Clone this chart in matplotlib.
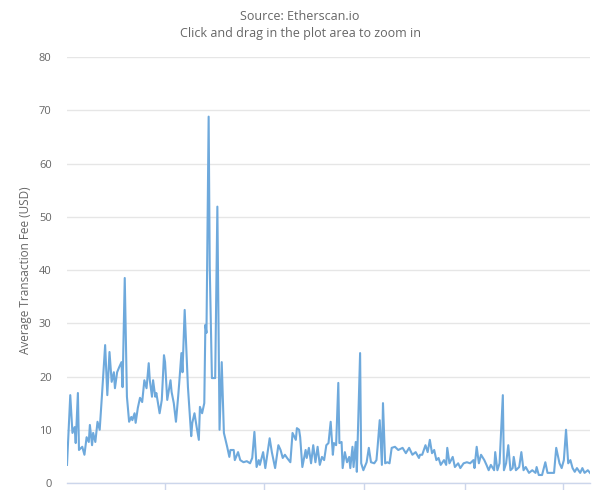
import datetime as dt
import matplotlib
matplotlib.use("Agg")
import matplotlib.pyplot as plt
import matplotlib.dates as mdates

# days since 2021-01-01 and average fee (USD)
days = [0, 3, 5, 7, 8, 10, 11, 14, 16, 18, 20, 21, 23, 24, 26, 28, 30, 32, 35, 37,
        39, 41, 43, 44, 46, 48, 50, 51, 53, 55, 57, 59, 60, 62, 63, 65, 67, 69, 71, 73,
        75, 76, 78, 79, 81, 82, 85, 87, 89, 90, 92, 95, 96, 98, 100, 102, 103, 105, 106, 108,
        110, 111, 114, 115, 117, 119, 121, 122, 124, 126, 127, 128, 130, 131, 133, 136, 138, 140, 142, 144,
        147, 149, 150, 153, 154, 157, 159, 162, 165, 168, 170, 172, 174, 176, 177, 180, 182, 186, 188, 191,
        194, 196, 198, 200, 202, 205, 207, 210, 211, 213, 214, 216, 219, 220, 222, 224, 226, 228, 230, 232,
        234, 236, 238, 240, 242, 244, 245, 247, 249, 250, 252, 253, 255, 257, 259, 260, 262, 263, 265, 266,
        269, 270, 272, 275, 277, 279, 282, 284, 285, 287, 289, 290, 292, 294, 296, 298, 301, 304, 308, 311,
        314, 317, 320, 323, 324, 326, 329, 331, 333, 335, 337, 339, 341, 343, 346, 348, 349, 351, 354, 356,
        359, 361, 364, 367, 370, 373, 374, 376, 378, 380, 383, 385, 387, 389, 392, 393, 395, 397, 400, 401,
        403, 405, 407, 409, 410, 412, 415, 417, 419, 421, 424, 427, 430, 431, 433, 436, 439, 441, 444, 447,
        449, 452, 454, 456, 458, 460, 462, 464, 466, 468, 471, 473, 475, 478, 480]
fees = [3.4, 16.5, 9.4, 10.5, 7.5, 16.9, 6.2, 6.8, 5.3, 8.6, 7.7, 10.9, 7.1, 9.4, 7.7, 11.5, 10.0, 16.2, 25.9, 16.5,
        24.6, 19.0, 20.8, 17.8, 20.8, 21.8, 22.7, 18.0, 38.5, 16.2, 11.5, 12.4, 11.8, 13.1, 11.3, 14.1, 16.0, 15.2, 19.3, 17.8,
        22.5, 19.3, 16.2, 19.3, 16.2, 16.9, 13.1, 15.6, 24.0, 22.7, 15.6, 19.3, 17.1, 15.0, 11.5, 16.2, 18.8, 24.4, 20.8, 32.5,
        23.1, 18.0, 8.8, 11.3, 13.1, 10.5, 8.1, 14.3, 13.1, 15.0, 29.7, 28.2, 68.8, 40.6, 19.7, 19.7, 51.9, 10.0, 22.7, 9.4,
        6.8, 4.9, 6.2, 6.2, 4.3, 5.8, 4.3, 3.9, 4.1, 3.7, 4.7, 9.6, 3.0, 4.3, 3.4, 5.8, 2.8, 8.4, 5.8, 2.8,
        7.1, 6.2, 4.7, 5.3, 4.7, 3.9, 9.4, 8.1, 10.3, 10.0, 8.6, 3.0, 6.2, 4.7, 6.6, 3.7, 7.1, 3.9, 6.8, 3.4,
        4.9, 4.3, 7.1, 7.5, 11.5, 5.3, 7.5, 7.1, 18.8, 7.5, 7.7, 2.8, 5.8, 3.9, 4.9, 2.8, 6.8, 3.0, 7.7, 2.1,
        24.4, 3.7, 2.4, 3.9, 6.6, 3.9, 3.7, 4.3, 6.6, 11.8, 3.4, 15.0, 3.7, 3.9, 3.7, 6.6, 6.8, 6.2, 6.6, 5.6,
        6.6, 5.3, 5.8, 4.7, 5.3, 5.3, 7.1, 5.8, 8.1, 5.6, 6.2, 4.3, 4.7, 3.4, 4.3, 3.4, 6.6, 3.7, 4.9, 3.0,
        3.7, 2.8, 3.7, 3.9, 3.7, 4.3, 2.8, 6.8, 3.7, 5.3, 4.3, 3.4, 2.4, 3.4, 2.4, 5.8, 2.4, 3.7, 16.5, 2.4,
        3.7, 7.1, 2.4, 2.8, 4.9, 2.4, 3.0, 5.8, 2.4, 3.0, 1.9, 2.4, 1.9, 3.0, 1.5, 1.5, 3.9, 1.9, 1.9, 1.9,
        6.6, 3.7, 2.8, 4.3, 10.0, 3.7, 4.3, 2.8, 2.1, 2.8, 1.9, 2.8, 1.9, 2.4, 1.9]

y_ticks = [0, 10, 20, 30, 40, 50, 60, 70, 80]
start = dt.datetime(2021, 1, 1)
dates = [start + dt.timedelta(days=d) for d in days]
x_ticks = [dt.datetime(2021, 4, 1), dt.datetime(2021, 7, 1), dt.datetime(2021, 10, 1),
           dt.datetime(2022, 1, 1), dt.datetime(2022, 4, 1)]

plt.rcParams['font.family'] = ['Open Sans', 'DejaVu Sans']

fig = plt.figure(figsize=(6, 4.9), dpi=100)
ax = fig.add_axes([67 / 600, 7 / 490, 523 / 600, 426 / 490])

ax.plot(dates, fees, color='#6ea9dc', linewidth=1.5, solid_joinstyle='round', zorder=3)

ax.set_xlim(start, start + dt.timedelta(days=480))
ax.set_ylim(0, 80)
ax.set_yticks(y_ticks)
ax.set_xticks(x_ticks)
ax.xaxis.set_major_formatter(mdates.DateFormatter('%b %Y'))

# highcharts-ish styling
ax.grid(axis='y', color='#e6e6e6', linewidth=1)
ax.set_axisbelow(True)
for side in ['top', 'right', 'left']:
    ax.spines[side].set_visible(False)
ax.spines['bottom'].set_color('#ccd6eb')
ax.spines['bottom'].set_linewidth(1)
ax.tick_params(axis='y', length=0, labelsize=8, labelcolor='#666666', pad=11)
ax.tick_params(axis='x', direction='out', length=7, width=1, color='#ccd6eb', labelbottom=False)

ax.set_ylabel('Average Transaction Fee (USD)', fontsize=8.5, color='#666666', labelpad=5)

fig.text(0.5, 1 - 17 / 490, 'Source: Etherscan.io', ha='center', va='center',
         fontsize=9, color='#666666')
fig.text(0.5, 1 - 33 / 490, 'Click and drag in the plot area to zoom in', ha='center', va='center',
         fontsize=9, color='#666666')

fig.savefig('out.png', dpi=100)
